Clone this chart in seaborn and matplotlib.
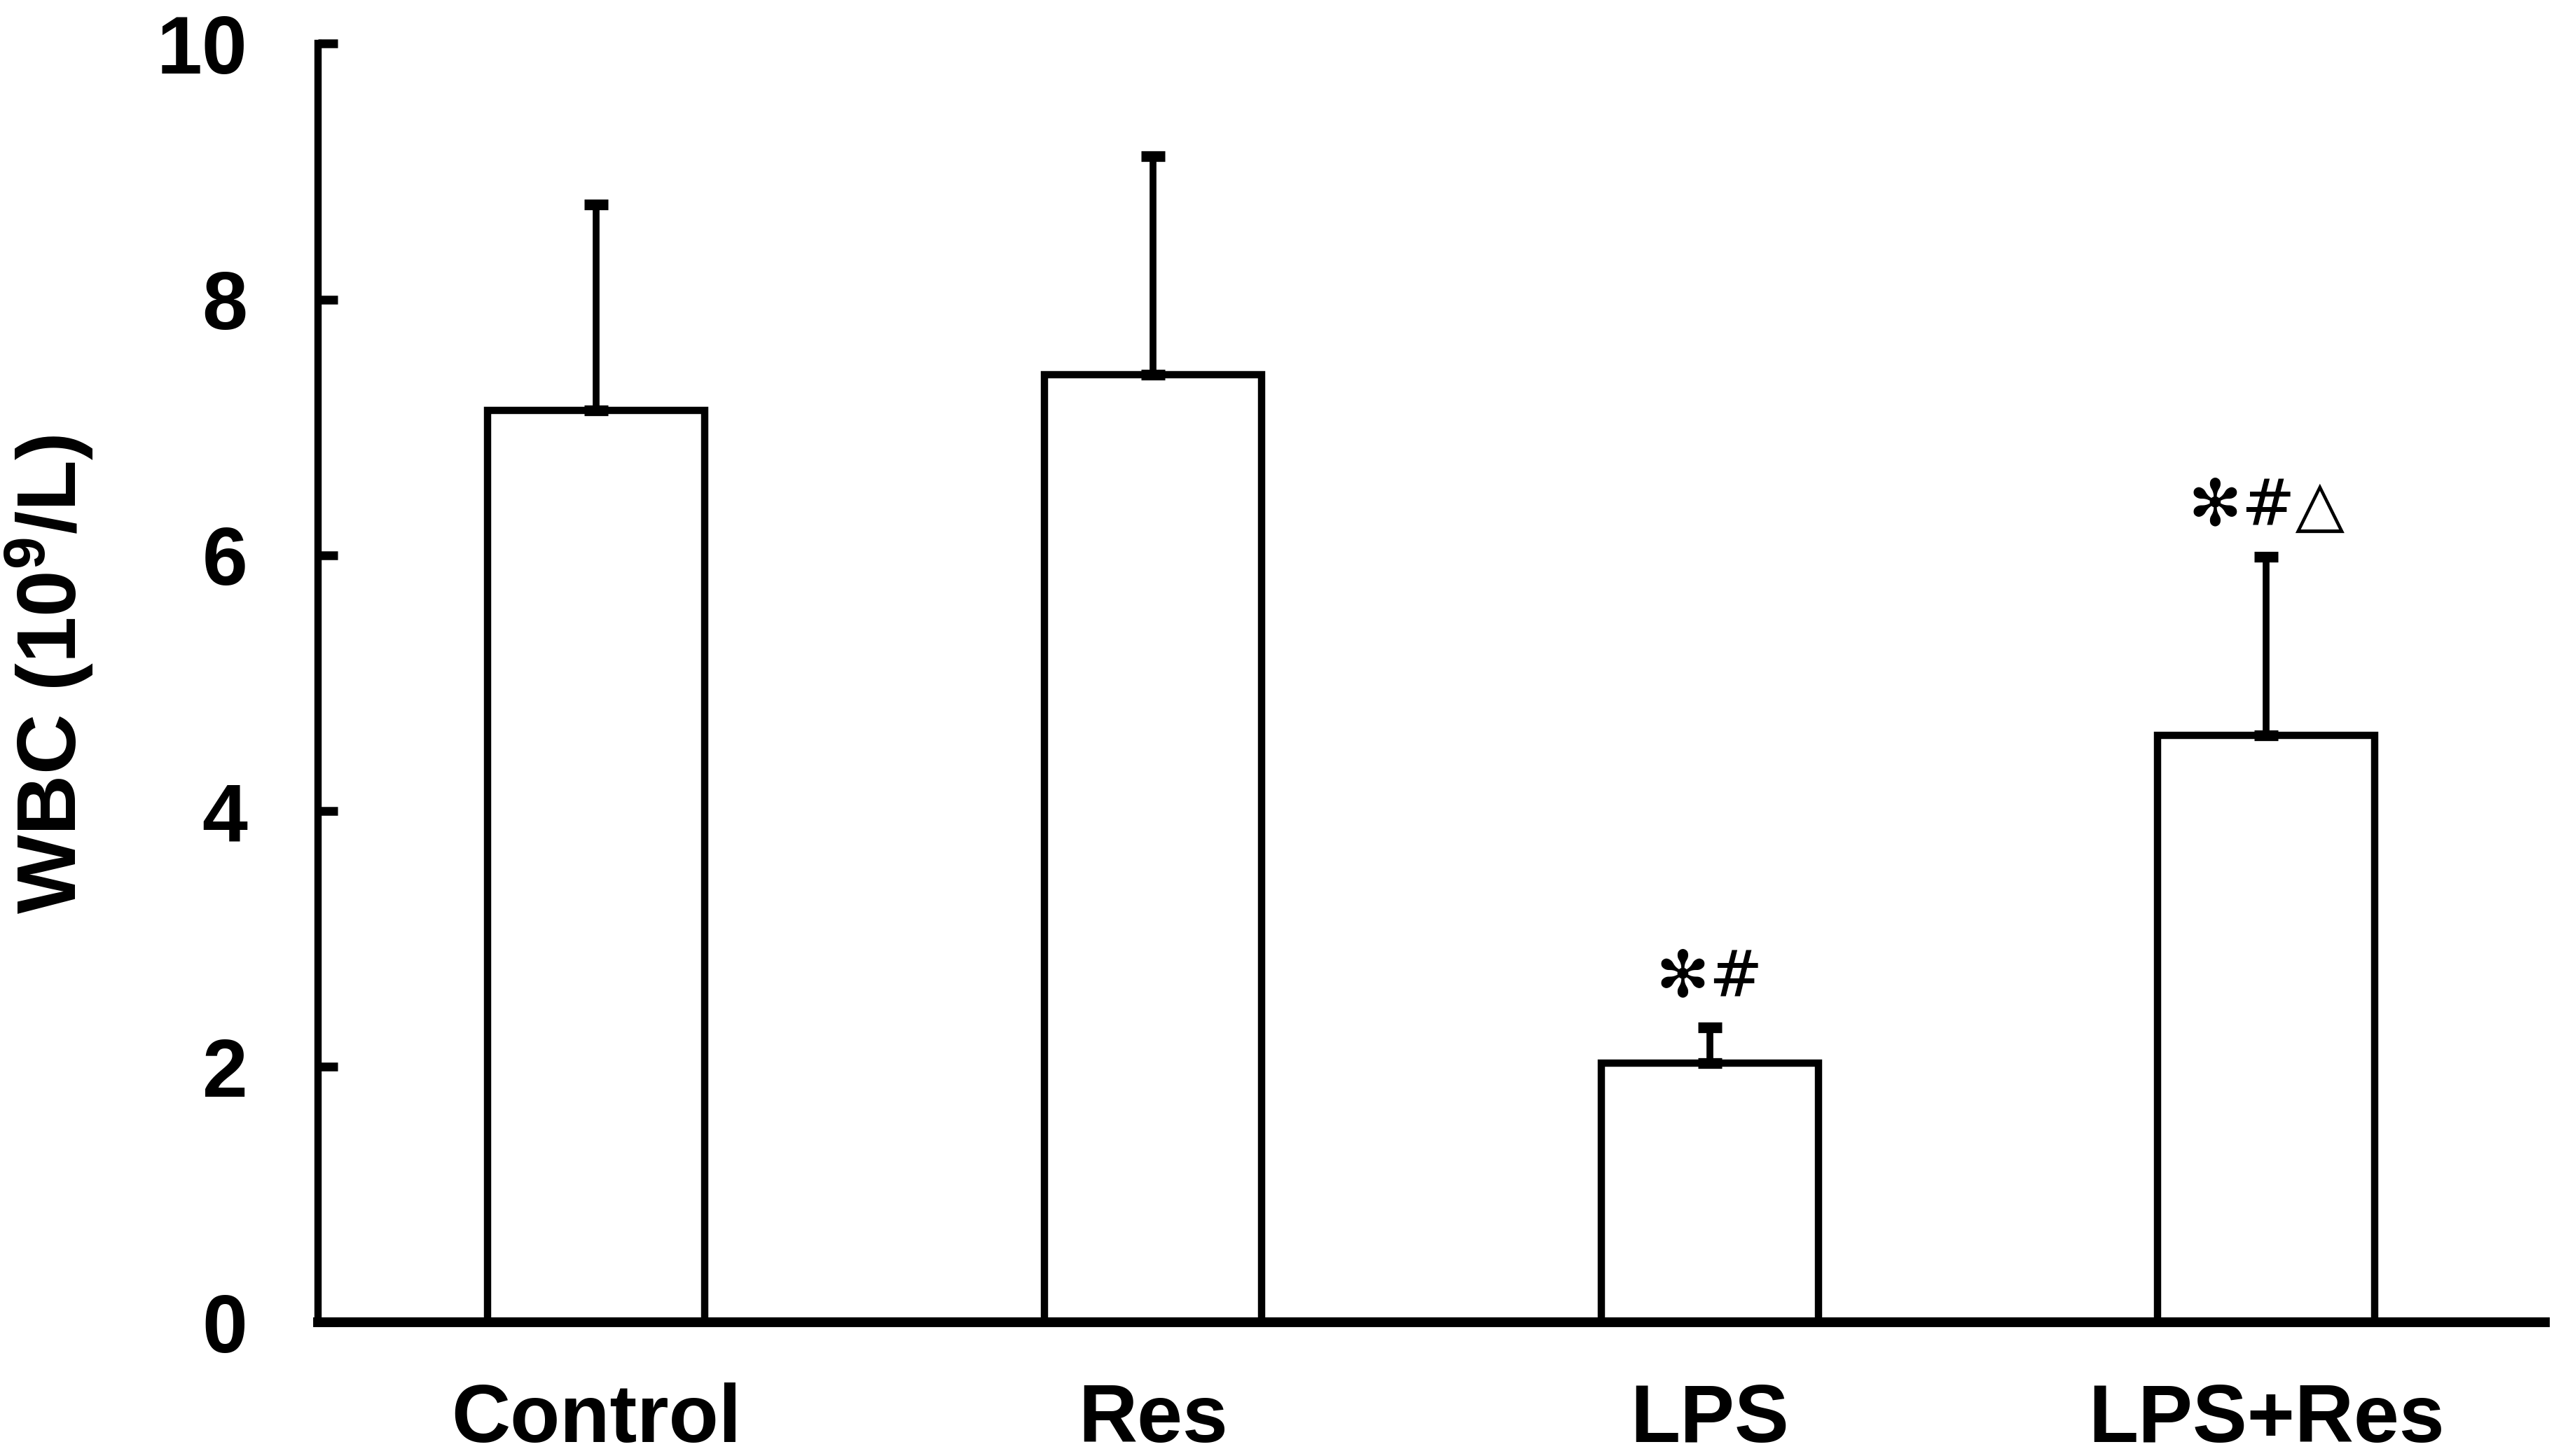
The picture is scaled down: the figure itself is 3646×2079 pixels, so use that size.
import matplotlib
matplotlib.use("Agg")
import matplotlib.pyplot as plt
import seaborn as sns
import numpy as np
from matplotlib.ticker import FixedLocator

categories = ["Control", "Res", "LPS", "LPS+Res"]
means = [7.13, 7.41, 2.03, 4.59]
sds = [1.61, 1.71, 0.28, 1.40]
marks = ["", "", "✻#", "✻#△"]
yticks = [0, 2, 4, 6, 8, 10]

sns.set_theme(style="white")
plt.rcParams['font.family'] = ['Liberation Sans', 'DejaVu Sans']
plt.rcParams['mathtext.default'] = 'regular'
for k in ["text.color", "axes.labelcolor", "xtick.color", "ytick.color", "axes.edgecolor"]:
    plt.rcParams[k] = "black"

fig = plt.figure(figsize=(36.46, 20.79), dpi=100)
ax = fig.add_axes([0.1244, 0.0917, 0.8720, 0.8783])

sns.barplot(x=categories, y=means, ax=ax, color="white", edgecolor="black",
            linewidth=7.5, width=0.39, errorbar=None, saturation=1)
xpos = np.arange(len(categories))
ax.errorbar(xpos, means, yerr=[np.zeros(len(sds)), sds], fmt="none",
            ecolor="black", elinewidth=7, capsize=12, capthick=11, zorder=1)

for x, m, s, t in zip(xpos, means, sds, marks):
    if t:
        ax.text(x, m + s + 0.14, t, ha="center", va="bottom", fontsize=66,
                family=["DejaVu Serif", "DejaVu Sans"], color="black")

ax.set_xlim(-0.5, 3.5)
ax.set_ylim(0, 10)
ax.set_yticks(yticks)
ax.set_yticklabels([str(v) for v in yticks], fontsize=84, fontweight="bold")
ax.set_xticks(xpos)
ax.set_xticklabels(categories, fontsize=84, fontweight="bold")
ax.xaxis.set_minor_locator(FixedLocator([0.5, 1.5, 2.5, 3.5]))
ax.tick_params(axis="x", which="major", length=0, pad=62)
ax.tick_params(axis="x", which="minor", direction="in", length=20, width=8, color="black")
ax.tick_params(axis="y", which="major", direction="in", length=20, width=9, color="black", pad=72, left=True)
ax.set_ylabel("WBC (10$^9$/L)", fontsize=86, fontweight="bold", va="center")
ax.yaxis.set_label_coords(-0.1205, 0.507)

for side in ["top", "right"]:
    ax.spines[side].set_visible(False)
ax.spines["left"].set_linewidth(7.5)
ax.spines["bottom"].set_linewidth(10)
ax.set_facecolor("white")
fig.patch.set_facecolor("white")

fig.savefig("out.png", dpi=100, facecolor="white")
